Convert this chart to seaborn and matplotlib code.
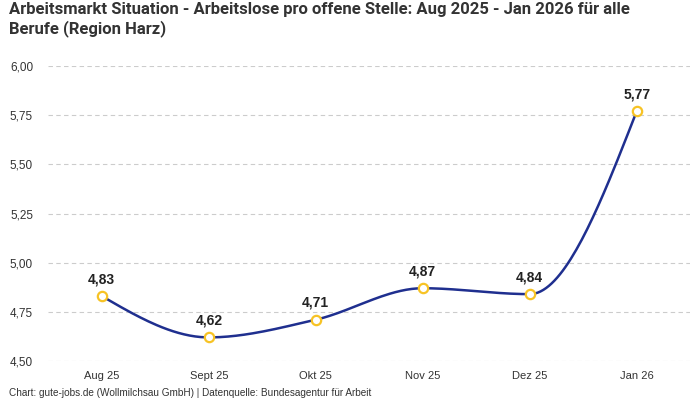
import numpy as np
import pandas as pd
import seaborn as sns
import matplotlib.pyplot as plt
from matplotlib.ticker import FuncFormatter

# data
months = ["Aug 25", "Sept 25", "Okt 25", "Nov 25", "Dez 25", "Jan 26"]
values = [4.83, 4.62, 4.71, 4.87, 4.84, 5.77]
y_ticks = [4.50, 4.75, 5.00, 5.25, 5.50, 5.75, 6.00]

title = ("Arbeitsmarkt Situation - Arbeitslose pro offene Stelle: Aug 2025 - Jan 2026 für alle\n"
         "Berufe (Region Harz)")
footer = "Chart: gute-jobs.de (Wollmilchsau GmbH) | Datenquelle: Bundesagentur für Arbeit"

df = pd.DataFrame({"pos": range(len(months)), "monat": months, "wert": values})

sns.set_theme(style="white")
plt.rcParams['font.family'] = ['Liberation Sans', 'DejaVu Sans']


def monotone(x, y, n=40):
    # same tangents as d3.curveMonotoneX, drawn as hermite segments
    x = np.asarray(x, float)
    y = np.asarray(y, float)
    h = np.diff(x)
    d = np.diff(y) / h
    m = np.zeros_like(y)
    for i in range(1, len(y) - 1):
        s0, s1 = d[i - 1], d[i]
        p = (s0 * h[i] + s1 * h[i - 1]) / (h[i - 1] + h[i])
        m[i] = (np.sign(s0) + np.sign(s1)) * min(abs(s0), abs(s1), 0.5 * abs(p))
    m[0] = (3 * d[0] - m[1]) / 2
    m[-1] = (3 * d[-1] - m[-2]) / 2
    xs, ys = [], []
    for i in range(len(h)):
        t = np.linspace(0, 1, n)
        h00 = 2 * t**3 - 3 * t**2 + 1
        h10 = t**3 - 2 * t**2 + t
        h01 = -2 * t**3 + 3 * t**2
        h11 = t**3 - t**2
        xs.append(x[i] + t * h[i])
        ys.append(h00 * y[i] + h10 * h[i] * m[i] + h01 * y[i + 1] + h11 * h[i] * m[i + 1])
    return np.concatenate(xs), np.concatenate(ys)


fig = plt.figure(figsize=(7, 4), dpi=100)
ax = fig.add_axes([0.069, 0.0975, 0.917, 0.7375])

sx, sy = monotone(df["pos"], df["wert"])
sns.lineplot(x=sx, y=sy, ax=ax, color="#1f2f8f", linewidth=1.8, sort=False, zorder=2)
sns.scatterplot(data=df, x="pos", y="wert", ax=ax, s=45, color="white",
                edgecolor="#f7c325", linewidth=1.6, zorder=3)

for p, v in zip(df["pos"], df["wert"]):
    ax.annotate(f"{v:.2f}".replace(".", ","), (p, v), xytext=(0, 7),
                textcoords="offset points", ha="center", va="bottom",
                fontsize=10, fontweight="bold", color="#222222")

ax.set_xlim(-0.5, len(months) - 0.5)
ax.set_ylim(4.5, 6.0)
ax.set_xticks(df["pos"])
ax.set_xticklabels(months, fontsize=8, color="#333333")
ax.set_yticks(y_ticks)
ax.yaxis.set_major_formatter(FuncFormatter(lambda v, _: f"{v:.2f}".replace(".", ",")))
for lab in ax.get_yticklabels():
    lab.set_fontsize(8.5)
    lab.set_color("#333333")
ax.tick_params(axis="both", length=0)
ax.tick_params(axis="x", pad=7)
ax.tick_params(axis="y", pad=11)
ax.set_xlabel("")
ax.set_ylabel("")
ax.grid(axis="y", linestyle=(0, (4, 3)), color="#cccccc", linewidth=0.8)
ax.set_axisbelow(True)
sns.despine(ax=ax, left=True, bottom=True)

fig.text(0.013, 0.995, title, ha="left", va="top", fontsize=12,
         fontweight="bold", color="#333333", linespacing=1.2,
         family=['Roboto', 'DejaVu Sans'])
fig.text(0.013, 0.005, footer, ha="left", va="bottom", fontsize=7.2,
         color="#333333")

fig.savefig("out.png", dpi=100)
